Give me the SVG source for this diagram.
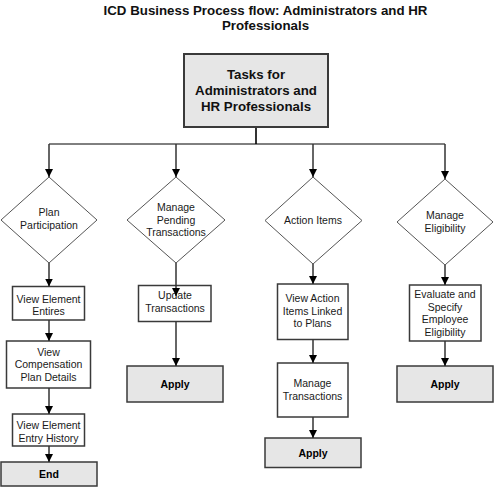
<svg xmlns="http://www.w3.org/2000/svg" width="494" height="487" viewBox="0 0 494 487">
<defs>
<marker id="ah" markerUnits="userSpaceOnUse" markerWidth="8" markerHeight="8" refX="8" refY="4" orient="auto">
<path d="M0,0 L8,4 L0,8 z" fill="#000"/>
</marker>
<style>
.t{font-family:"Liberation Sans",Arial,sans-serif;font-size:10.5px;fill:#1a1a1a;text-anchor:middle}
.b{font-family:"Liberation Sans",Arial,sans-serif;font-size:10.5px;font-weight:bold;fill:#000;text-anchor:middle}
.h{font-family:"Liberation Sans",Arial,sans-serif;font-size:13.3px;font-weight:bold;fill:#111;text-anchor:middle}
.box{fill:#fff;stroke:#3a3a3a;stroke-width:1.5}
.gbox{fill:#e6e6e6;stroke:#3a3a3a;stroke-width:1.5}
.dia{fill:#fff;stroke:#555;stroke-width:1}
.c{fill:none;stroke:#333;stroke-width:1.5}
.ca{fill:none;stroke:#333;stroke-width:1.5;marker-end:url(#ah)}
</style>
</defs>
<rect width="494" height="487" fill="#fff"/>
<g id="title">
<text class="h" x="265.5" y="14.5">ICD Business Process flow: Administrators and HR</text>
<text class="h" x="265.5" y="30">Professionals</text>
</g>
<g id="tasks">
<rect class="gbox" x="184" y="54" width="144" height="73" style="stroke-width:2"/>
<text class="h" x="256" y="78.5">Tasks for</text>
<text class="h" x="256" y="94.5">Administrators and</text>
<text class="h" x="256" y="110.5">HR Professionals</text>
</g>
<g id="plan-participation">
<polygon class="dia" points="49,177 97,220 49,263 1,220"/>
<text class="t" x="49" y="216">Plan</text>
<text class="t" x="49" y="229">Participation</text>
</g>
<g id="view-element-entires">
<rect class="box" x="12.5" y="286.5" width="72" height="33.5"/>
<text class="t" x="48.5" y="302.5">View Element</text>
<text class="t" x="48.5" y="315">Entires</text>
</g>
<g id="view-compensation">
<rect class="box" x="6.5" y="341" width="84" height="47"/>
<text class="t" x="48.5" y="355.5">View</text>
<text class="t" x="48.5" y="368">Compensation</text>
<text class="t" x="48.5" y="380.5">Plan Details</text>
</g>
<g id="view-element-entry-history">
<rect class="box" x="12.5" y="414" width="72" height="32"/>
<text class="t" x="48.5" y="429">View Element</text>
<text class="t" x="48.5" y="441.5">Entry History</text>
</g>
<g id="end">
<rect class="gbox" x="1" y="462" width="96" height="24"/>
<text class="b" x="49" y="478">End</text>
</g>
<g id="manage-pending">
<polygon class="dia" points="176,177 225,220 176,263 127,220"/>
<text class="t" x="176" y="210.8">Manage</text>
<text class="t" x="176" y="223.5">Pending</text>
<text class="t" x="176" y="236.2">Transactions</text>
</g>
<g id="update-transactions">
<rect class="box" x="138.5" y="285.5" width="72.5" height="36"/>
<text class="t" x="175" y="299.3">Update</text>
<text class="t" x="175" y="312.3">Transactions</text>
</g>
<g id="apply-2">
<rect class="gbox" x="127" y="366" width="96" height="36"/>
<text class="b" x="175" y="388">Apply</text>
</g>
<g id="action-items">
<polygon class="dia" points="313,177 362,220.5 313,264 265,220.5"/>
<text class="t" x="313" y="224.3">Action Items</text>
</g>
<g id="view-action-items">
<rect class="box" x="277.5" y="284" width="70.5" height="55.5"/>
<text class="t" x="312.5" y="301.8">View Action</text>
<text class="t" x="312.5" y="314.6">Items Linked</text>
<text class="t" x="312.5" y="327.4">to Plans</text>
</g>
<g id="manage-transactions">
<rect class="box" x="277.5" y="363" width="70.5" height="54"/>
<text class="t" x="312.5" y="387">Manage</text>
<text class="t" x="312.5" y="400">Transactions</text>
</g>
<g id="apply-3">
<rect class="gbox" x="265" y="438" width="96" height="29.5"/>
<text class="b" x="313" y="457">Apply</text>
</g>
<g id="manage-eligibility">
<polygon class="dia" points="445,179 493,222 445,265 397,222"/>
<text class="t" x="445" y="218.8">Manage</text>
<text class="t" x="445" y="231.8">Eligibility</text>
</g>
<g id="evaluate-eligibility">
<rect class="box" x="409.5" y="285" width="71.5" height="56"/>
<text class="t" x="445" y="297.8">Evaluate and</text>
<text class="t" x="445" y="310.5">Specify</text>
<text class="t" x="445" y="323.2">Employee</text>
<text class="t" x="445" y="335.9">Eligibility</text>
</g>
<g id="apply-4">
<rect class="gbox" x="397" y="366" width="96" height="36"/>
<text class="b" x="445" y="388">Apply</text>
</g>
<g id="connectors">
<line class="c" x1="256" y1="128" x2="256" y2="144" style="stroke-width:2"/>
<line x1="49" y1="144" x2="445" y2="144" stroke="#000" stroke-width="1"/>
<line class="ca" x1="49" y1="144" x2="49" y2="177"/>
<line class="ca" x1="176" y1="144" x2="176" y2="177"/>
<line class="ca" x1="313" y1="144" x2="313" y2="177"/>
<line class="ca" x1="445" y1="144" x2="445" y2="179"/>
<line class="ca" x1="49" y1="263" x2="49" y2="286.5"/>
<line class="ca" x1="49" y1="320" x2="49" y2="341"/>
<line class="ca" x1="49" y1="388" x2="49" y2="414"/>
<line class="ca" x1="49" y1="446" x2="49" y2="462"/>
<line class="ca" x1="176" y1="263" x2="176" y2="296"/>
<line class="ca" x1="176" y1="321.5" x2="176" y2="366"/>
<line class="ca" x1="313" y1="264" x2="313" y2="284"/>
<line class="ca" x1="313" y1="339.5" x2="313" y2="363"/>
<line class="ca" x1="313" y1="417" x2="313" y2="438"/>
<line class="ca" x1="445" y1="265" x2="445" y2="285"/>
<line class="ca" x1="445" y1="341" x2="445" y2="366"/>
</g>
</svg>
